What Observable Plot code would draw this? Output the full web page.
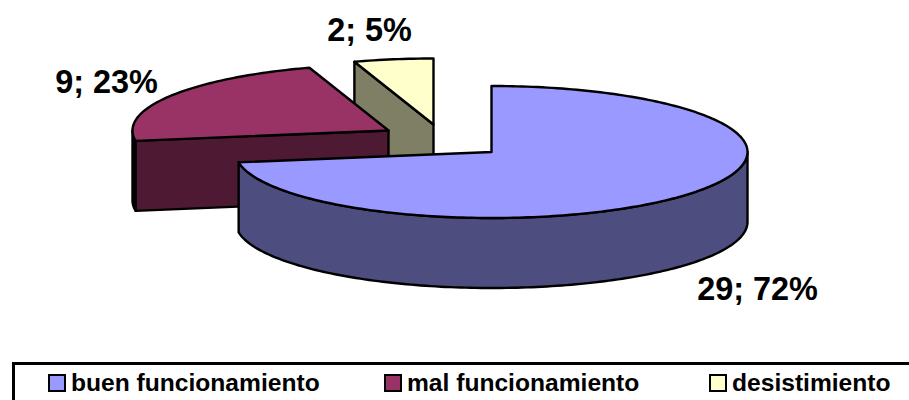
<!DOCTYPE html>
<html>
<head>
<meta charset="utf-8">
<script src="https://cdn.jsdelivr.net/npm/d3@7"></script>
<script src="https://cdn.jsdelivr.net/npm/@observablehq/plot@0.6"></script>
<style>
  html, body { margin: 0; padding: 0; background: #fff; overflow: hidden; }
  #chart svg { display: block; }
  #legend {
    position: absolute; left: 12px; top: 362px; width: 910px; height: 50px;
    border: 3px solid #000; box-sizing: border-box;
    font: bold 24.6px "Liberation Sans", Arial, sans-serif; color: #000;
  }
  #legend .item { position: absolute; top: 5px; display: flex; align-items: center; white-space: nowrap; line-height: 26px; }
  #legend .swatch { width: 18px; height: 18px; box-sizing: border-box; border: 2.5px solid #000; margin-right: 5px; display: inline-block; }
</style>
</head>
<body>
<div id="chart"></div>
<div id="legend"></div>
<script>
// Survey outcome counts
const categories = ["buen funcionamiento", "mal funcionamiento", "desistimiento"];
const counts = [29, 9, 2];
const percents = [72, 23, 5];

const topColors = ["#9999ff", "#993366", "#ffffcc"];
const wallColors = ["#4d4d7f", "#4d1933", "#7f7f66"];
const edgeColors = ["#4d4d7f", "#1a0a12", "#7f7f66"];

// Perspective pie: ellipse radii, wall depth, and where each exploded slice's apex sits
const rx = 256, ry = 66, depth = 70;
const apexes = [[491, 151.5], [388, 130], [433, 124]];
const labelAt = [[757, 289], [106, 82], [369, 30]];
const legendAt = [48, 384, 709];

const width = 909, height = 362;
const pieArcs = d3.pie().sort(null)(counts);

const onRim = (i, a, drop = 0) => ({
  x: apexes[i][0] + rx * Math.sin(a),
  y: apexes[i][1] - ry * Math.cos(a) + drop
});
const arcAngles = (a0, a1) => {
  const n = Math.max(2, Math.ceil(Math.abs(a1 - a0) / 0.02));
  return d3.range(n + 1).map((k) => a0 + ((a1 - a0) * k) / n);
};

// Top face of a slice: apex, then the rim from start angle to end angle
const topFace = (i) => {
  const {startAngle: a0, endAngle: a1} = pieArcs[i];
  return [{x: apexes[i][0], y: apexes[i][1]}, ...arcAngles(a0, a1).map((a) => onRim(i, a)), {x: apexes[i][0], y: apexes[i][1]}];
};
// Curved outer wall: only the part of the rim that faces the viewer
const rimWall = (i, a0, a1) => {
  const as = arcAngles(a0, a1);
  const upper = as.map((a) => onRim(i, a));
  const lower = as.slice().reverse().map((a) => onRim(i, a, depth));
  return [...upper, ...lower, upper[0]];
};
// Flat cut wall between the apex and a rim angle
const cutWall = (i, a) => {
  const A = {x: apexes[i][0], y: apexes[i][1]};
  const B = onRim(i, a);
  return [A, B, {x: B.x, y: B.y + depth}, {x: A.x, y: A.y + depth}, A];
};

const poly = (points, fill) =>
  Plot.line(points, {x: "x", y: "y", fill, stroke: "#000", strokeWidth: 2.4, strokeLinejoin: "round", curve: "linear"});

const marks = [
  // Small slice: back-most, its far cut wall shows through the notch
  poly(cutWall(2, pieArcs[2].startAngle), wallColors[2]),
  poly(topFace(2), topColors[2]),
  // Middle slice
  poly(rimWall(1, pieArcs[1].startAngle, 3 * Math.PI / 2), edgeColors[1]),
  poly(cutWall(1, pieArcs[1].startAngle), wallColors[1]),
  poly(topFace(1), topColors[1]),
  // Largest slice, nearest the viewer
  poly(rimWall(0, Math.PI / 2, pieArcs[0].endAngle), wallColors[0]),
  poly(topFace(0), topColors[0]),
  // Value labels
  Plot.text(categories.map((c, i) => ({c, i})), {
    x: (d) => labelAt[d.i][0],
    y: (d) => labelAt[d.i][1],
    text: (d) => `${counts[d.i]}; ${percents[d.i]}%`,
    fontFamily: "Liberation Sans, Arial, sans-serif",
    fontWeight: "bold",
    fontSize: 32.4,
    fill: "#000"
  })
];

const chart = Plot.plot({
  width, height,
  margin: 0,
  x: {domain: [0, width], range: [0, width], axis: null},
  y: {domain: [0, height], range: [0, height], axis: null},
  style: {background: "#fff", overflow: "visible"},
  marks
});
document.getElementById("chart").append(chart);

const legend = d3.select("#legend");
categories.forEach((c, i) => {
  const item = legend.append("div").attr("class", "item").style("left", `${legendAt[i] - 15}px`);
  item.append("span").attr("class", "swatch").style("background", topColors[i]);
  item.append("span").text(c);
});
</script>
</body>
</html>
